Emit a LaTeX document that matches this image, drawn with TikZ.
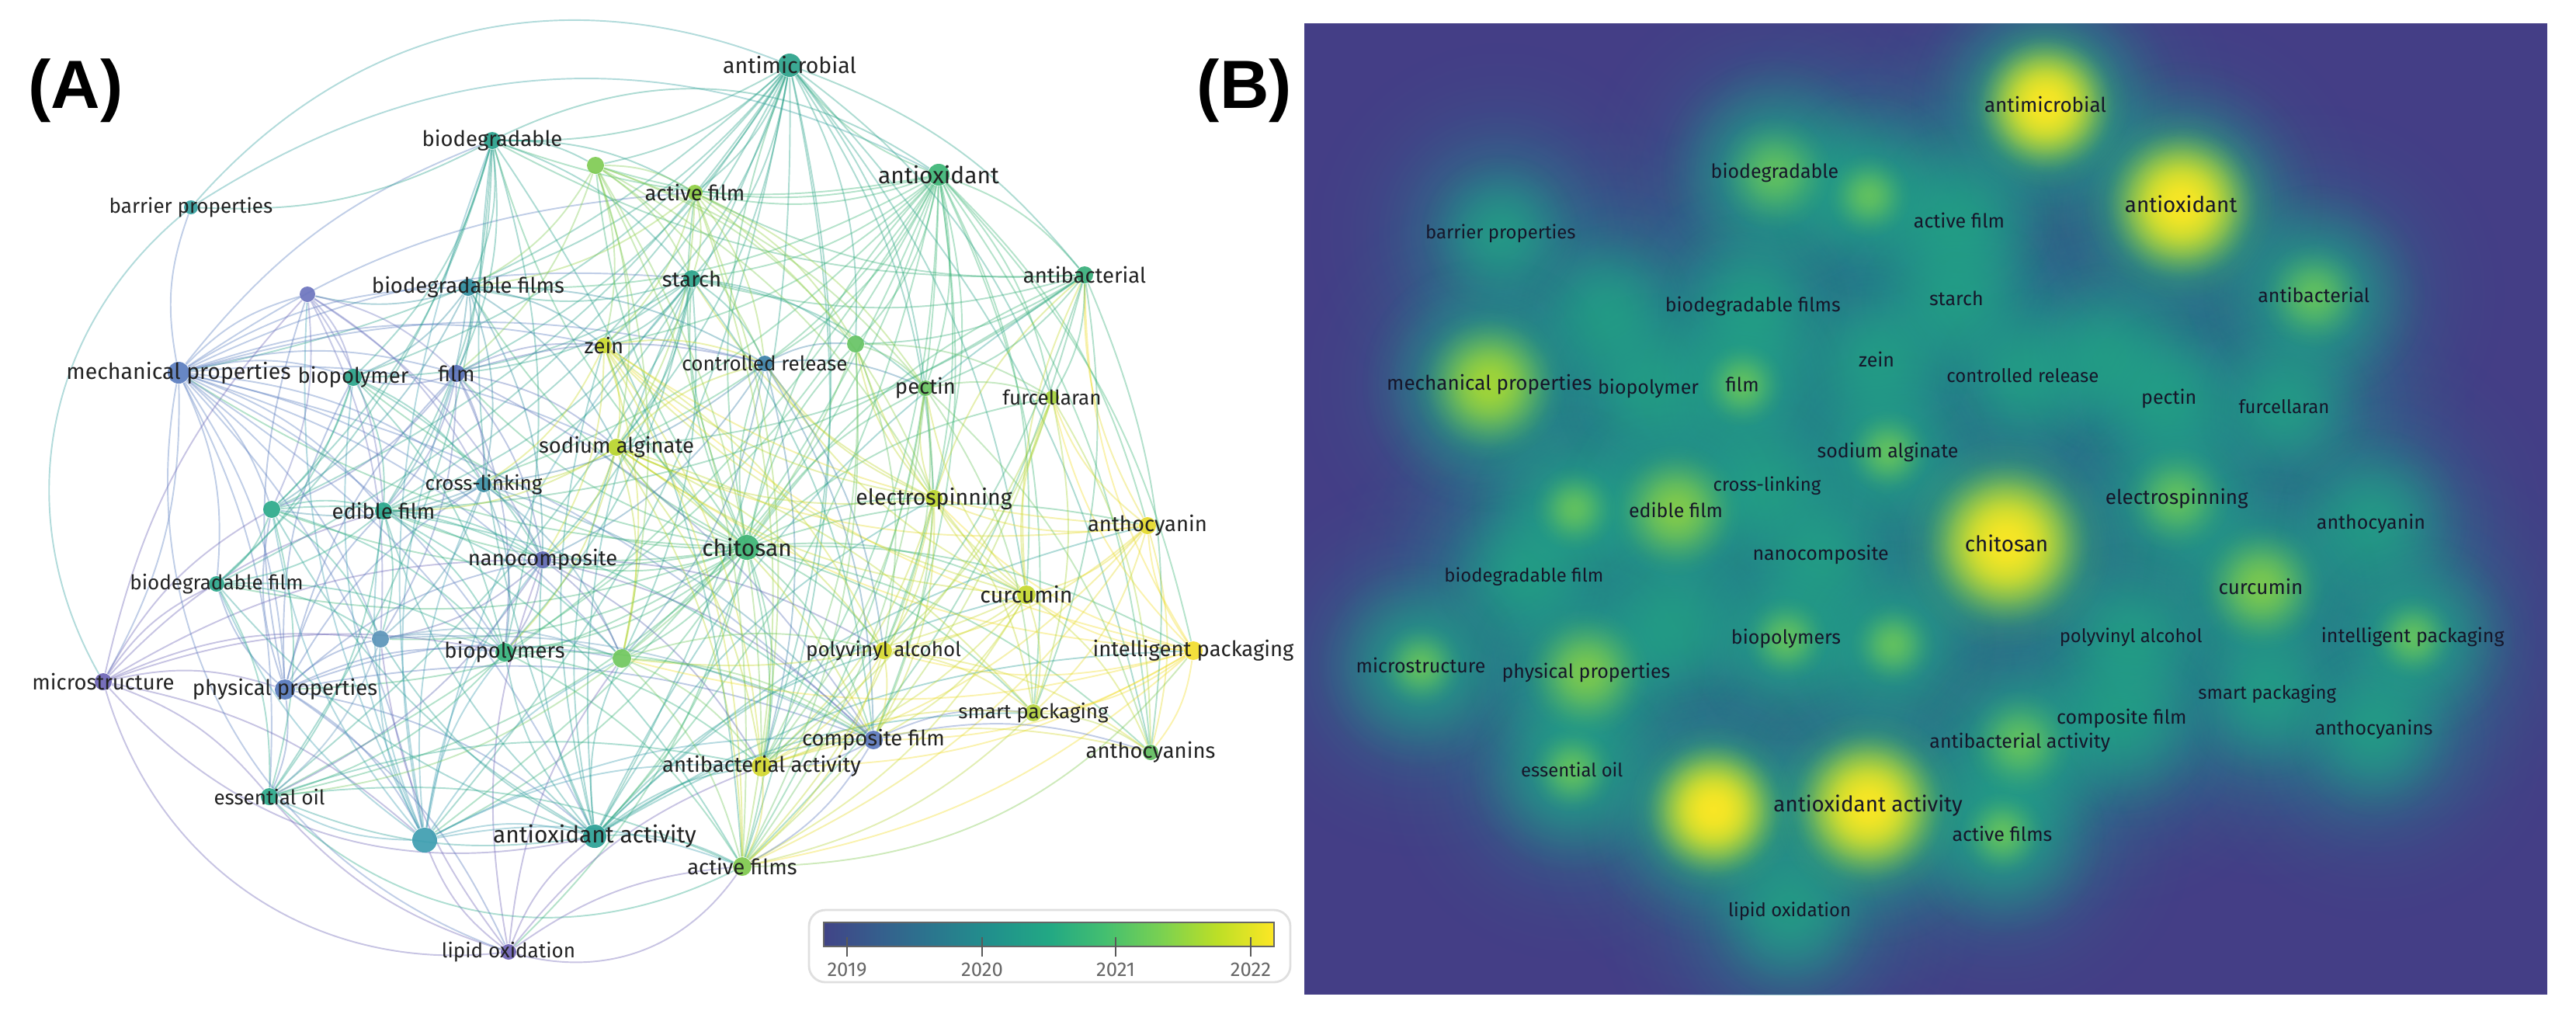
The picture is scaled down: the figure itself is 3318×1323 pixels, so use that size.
\documentclass[tikz,border=0pt]{standalone}
\usepackage{fontspec}
\setmainfont{Fira Sans}
\newfontfamily\labf{Fira Sans}
\newfontfamily\boldf{Liberation Sans}
\usetikzlibrary{fadings}
\definecolor{labtext}{HTML}{222222}
\definecolor{blabtext}{HTML}{16162A}
\definecolor{bgB}{HTML}{443E86}
\definecolor{vir2}{HTML}{414487}
\definecolor{vir3}{HTML}{355F8D}
\definecolor{vir4}{HTML}{2A788E}
\definecolor{vir5}{HTML}{21918C}
\definecolor{vir6}{HTML}{22A884}
\definecolor{vir7}{HTML}{44BF70}
\definecolor{vir8}{HTML}{7AD151}
\definecolor{vir9}{HTML}{BDDF26}
\definecolor{vir10}{HTML}{FDE725}
\definecolor{camic}{HTML}{2AA28A}
\definecolor{cbiod}{HTML}{27A08B}
\definecolor{cgn1}{HTML}{7FCB52}
\definecolor{cafilm}{HTML}{90CF43}
\definecolor{caox}{HTML}{3CB575}
\definecolor{cbarr}{HTML}{35A0A0}
\definecolor{cpu1}{HTML}{6C74BE}
\definecolor{cbfilms}{HTML}{2E8C9D}
\definecolor{cstarch}{HTML}{2AA38A}
\definecolor{cabac}{HTML}{37AE79}
\definecolor{czein}{HTML}{CAD92B}
\definecolor{cctrl}{HTML}{3B80A7}
\definecolor{cgn2}{HTML}{66C364}
\definecolor{cmech}{HTML}{5A7DBF}
\definecolor{cbpoly}{HTML}{2AA58A}
\definecolor{cfilm}{HTML}{5970B8}
\definecolor{cpectin}{HTML}{6CC462}
\definecolor{cfurc}{HTML}{A6D33A}
\definecolor{csodalg}{HTML}{B8D52B}
\definecolor{ccross}{HTML}{3C8FA6}
\definecolor{cespin}{HTML}{BDD52D}
\definecolor{cgt1}{HTML}{2BA98A}
\definecolor{cedible}{HTML}{25A68A}
\definecolor{cantho}{HTML}{E4D929}
\definecolor{cchit}{HTML}{3BB273}
\definecolor{cnano}{HTML}{5C66B1}
\definecolor{cbfilm}{HTML}{2BA88B}
\definecolor{ccurc}{HTML}{C6D82C}
\definecolor{cbl1}{HTML}{5A94B8}
\definecolor{cbpolys}{HTML}{34B17B}
\definecolor{cgn3}{HTML}{70C75D}
\definecolor{cpva}{HTML}{D6D92C}
\definecolor{cintel}{HTML}{F2DD2B}
\definecolor{cmicro}{HTML}{6B63B5}
\definecolor{cphys}{HTML}{5577BB}
\definecolor{csmart}{HTML}{B3D33B}
\definecolor{ccfilm}{HTML}{5B78BD}
\definecolor{canthos}{HTML}{5FBD5D}
\definecolor{cabact}{HTML}{D2D72C}
\definecolor{ceoil}{HTML}{2AA889}
\definecolor{cbt1}{HTML}{3E9DB0}
\definecolor{caoxa}{HTML}{2A9F95}
\definecolor{cafilms}{HTML}{7EC84C}
\definecolor{clipid}{HTML}{6F63B5}
\pgfdeclareradialshading{gaussshade}{\pgfpointorigin}{color(0bp)=(white); color(5bp)=(black!10); color(10bp)=(black!35); color(15bp)=(black!65); color(20bp)=(black!88); color(25bp)=(black); color(50bp)=(black)}
\pgfdeclarefading{gauss}{\pgfuseshading{gaussshade}}
\pgfdeclarehorizontalshading{viridisbar}{100bp}{color(0bp)=(vir2); color(25bp)=(vir2); color(31.25bp)=(vir3); color(37.5bp)=(vir4); color(43.75bp)=(vir5); color(50bp)=(vir6); color(56.25bp)=(vir7); color(62.5bp)=(vir8); color(68.75bp)=(vir9); color(75bp)=(vir10); color(100bp)=(vir10)}
\pgfdeclarelayer{edges}
\pgfsetlayers{edges,main}
\def\kwlist{%
amic/1017/84/15/antimicrobial/L/5,%
biod/634/181/11/biodegradable/M/3.7,%
gn1/767/213/11//M/3,%
afilm/895/248/10/active film/M/2.5,%
aox/1209/225/14/antioxidant/X/5.5,%
barr/246/267/9/barrier properties/S/1.5,%
pu1/396/379/10//M/2,%
bfilms/603/370/11/biodegradable films/M/2.5,%
starch/891/359/11/starch/M/2.5,%
abac/1397/354/11/antibacterial/M/3.5,%
zein/778/445/10/zein/M/2.5,%
ctrl/985/468/10/controlled release/S/2,%
gn2/1102/443/11//M/2.5,%
mech/230/480/14/mechanical properties/L/4.6,%
bpoly/455/486/11/biopolymer/M/2.5,%
film/588/481/11/film/M/3,%
pectin/1192/500/10/pectin/M/2,%
furc/1355/512/9/furcellaran/S/2,%
sodalg/794/576/11/sodium alginate/M/3,%
cross/623/624/10/cross-linking/S/2,%
espin/1203/642/11/electrospinning/L/3.5,%
gt1/350/656/11//M/3,%
edible/494/658/11/edible film/M/4.1,%
antho/1478/677/11/anthocyanin/M/2.5,%
chit/962/705/16/chitosan/X/6,%
nano/699/721/11/nanocomposite/M/2,%
bfilm/279/752/10/biodegradable film/S/2,%
curc/1322/766/12/curcumin/L/4,%
bl1/490/823/11//M/2.5,%
bpolys/650/840/12/biopolymers/M/3,%
gn3/801/848/12//M/3,%
pva/1138/838/11/polyvinyl alcohol/S/2.5,%
intel/1537/838/12/intelligent packaging/M/3,%
micro/133/878/11/microstructure/M/3,%
phys/367/888/13/physical properties/M/4,%
smart/1331/918/11/smart packaging/S/2,%
cfilm/1125/953/12/composite film/M/2.5,%
anthos/1482/969/10/anthocyanins/M/2,%
abact/981/987/13/antibacterial activity/M/3.5,%
eoil/347/1026/11/essential oil/S/3,%
bt1/547/1082/16//M/5,%
aoxa/766/1077/15/antioxidant activity/X/5.5,%
afilms/956/1116/12/active films/M/3,%
lipid/655/1226/10/lipid oxidation/S/2}
\newcommand\kwlinks[2]{\foreach \t in {#2}{\draw[lk=#1] (#1) to[bend left=15] (\t);}}
\begin{document}
\begin{tikzpicture}[x=0.01cm,y=-0.01cm,
  nd/.style={circle,inner sep=0pt,draw=none,fill opacity=0.92},
  lab-S/.style={font=\labf\fontsize{7.4}{8}\selectfont,text=labtext,inner sep=0pt},
  lab-M/.style={font=\labf\fontsize{7.8}{8}\selectfont,text=labtext,inner sep=0pt},
  lab-L/.style={font=\labf\fontsize{8.1}{9}\selectfont,text=labtext,inner sep=0pt},
  lab-X/.style={font=\labf\fontsize{8.5}{9}\selectfont,text=labtext,inner sep=0pt},
  blab-S/.style={font=\labf\fontsize{6.8}{7}\selectfont,text=blabtext,inner sep=0pt},
  blab-M/.style={font=\labf\fontsize{7.1}{8}\selectfont,text=blabtext,inner sep=0pt},
  blab-L/.style={font=\labf\fontsize{7.4}{8}\selectfont,text=blabtext,inner sep=0pt},
  blab-X/.style={font=\labf\fontsize{7.9}{9}\selectfont,text=blabtext,inner sep=0pt},
  lk/.style={draw=c#1,line width=0.55pt,draw opacity=0.38},
  panellab/.style={font=\boldf\bfseries\fontsize{25}{30}\selectfont,inner sep=0pt},
  cbl/.style={font=\labf\fontsize{7.3}{8}\selectfont,text=black!60,inner sep=0pt}]
\useasboundingbox (0,0) rectangle (3318,1323);
% ---------------- panel B : density map ----------------
\fill[bgB] (1680,30) rectangle (3281,1281);
\begin{scope}
\clip (1680,30) rectangle (3281,1281);
\begin{scope}[shift={(1709,58)},scale=0.91]
\foreach \id/\x/\y/\r/\txt/\sz/\w in \kwlist{
  \fill[vir4,path fading=gauss,fill opacity=0.5] (\x,\y) circle[radius=270];}
\foreach \id/\x/\y/\r/\txt/\sz/\w in \kwlist{
  \fill[vir5,path fading=gauss,fill opacity=0.5] (\x,\y) circle[radius=180];}
\foreach \id/\x/\y/\r/\txt/\sz/\w in \kwlist{
  \fill[vir6,path fading=gauss,fill opacity=0.65] (\x,\y) circle[radius={80+22*\w}];}
\foreach \id/\x/\y/\r/\txt/\sz/\w in \kwlist{
  \ifdim\w pt>2.9pt \fill[vir8,path fading=gauss,fill opacity=0.7] (\x,\y) circle[radius={30*\w-30}];\fi}
\foreach \id/\x/\y/\r/\txt/\sz/\w in \kwlist{
  \ifdim\w pt>3.9pt \fill[vir9,path fading=gauss,fill opacity={min(0.9,(\w-3.6)*0.7)}] (\x,\y) circle[radius={20*\w}];\fi}
\foreach \id/\x/\y/\r/\txt/\sz/\w in \kwlist{
  \ifdim\w pt>4.7pt \fill[vir10,path fading=gauss,fill opacity=0.95] (\x,\y) circle[radius={18*\w}];\fi}
\foreach \id/\x/\y/\r/\txt/\sz/\w in \kwlist{
  \ifx\txt\empty\else \node[blab-\sz] (B\id) at (\x,\y) {\txt};\fi}
\end{scope}
\end{scope}
% ---------------- panel A : network ----------------
\foreach \id/\x/\y/\r/\txt/\sz/\w in \kwlist{
  \node[nd,fill=c\id,minimum size={\r*0.02cm},label={[lab-\sz]center:\txt}] (\id) at (\x,\y) {};}
\begin{pgfonlayer}{edges}
\kwlinks{chit}{amic,biod,aox,afilm,starch,abac,zein,ctrl,gn2,mech,bpoly,film,pectin,furc,sodalg,cross,espin,gt1,edible,antho,nano,bfilm,curc,bl1,bpolys,gn3,pva,intel,phys,smart,cfilm,anthos,abact,eoil,bt1,aoxa,afilms,gn1,bfilms,lipid}
\kwlinks{aox}{amic,abac,curc,espin,pectin,starch,biod,afilm,gn1,gn2,furc,antho,intel,smart,anthos,abact,afilms,aoxa,sodalg,zein,ctrl,pva,edible,bpolys,eoil,bt1,gn3,cfilm,bfilms}
\kwlinks{amic}{biod,afilm,abac,starch,gn2,pectin,espin,curc,edible,eoil,bfilm,gt1,aoxa,bt1,abact,afilms,mech,bpoly,bfilms,zein,sodalg,gn1,film,furc,anthos}
\kwlinks{mech}{barr,pu1,bfilms,bpoly,film,biod,micro,phys,bfilm,gt1,edible,bl1,nano,cross,eoil,bt1,aoxa,starch,zein,bpolys,gn3,cfilm,sodalg,afilm,ctrl}
\kwlinks{micro}{phys,eoil,bt1,bfilm,gt1,bl1,nano,pu1,edible,bpolys}
\kwlinks{phys}{bfilm,gt1,edible,bl1,nano,bpolys,bt1,eoil,aoxa,film,pu1,cross,lipid,gn3,cfilm,bpoly}
\kwlinks{lipid}{bt1,aoxa,eoil,afilms,abact,bl1,nano,gn3}
\kwlinks{bt1}{eoil,aoxa,bl1,nano,bpolys,gt1,edible,bfilm,cross,film,pu1,gn3,afilms,abact,starch,bpoly,biod,cfilm}
\kwlinks{aoxa}{eoil,bpolys,gn3,nano,bl1,afilms,abact,cfilm,pva,curc,espin,sodalg,zein,edible,gt1,bfilm,starch,intel,antho,smart,biod,abac}
\kwlinks{intel}{antho,curc,anthos,smart,pva,espin,abact,cfilm,abac,afilms,furc,sodalg,zein,gn3}
\kwlinks{antho}{curc,espin,smart,anthos,pva,sodalg,zein,abac,furc,abact,afilms}
\kwlinks{curc}{espin,pva,smart,anthos,abac,sodalg,zein,abact,afilms,cfilm,gn2,pectin,ctrl,gn3,furc}
\kwlinks{espin}{pva,zein,sodalg,ctrl,abac,gn2,abact,afilms,smart,cfilm,starch,pectin}
\kwlinks{abac}{starch,biod,afilm,pectin,furc,gn2,abact,anthos,smart,afilms,edible,sodalg}
\kwlinks{biod}{afilm,gn1,starch,bfilms,bpoly,film,barr,edible,gt1,bfilm,eoil,afilms,bpolys}
\kwlinks{gn1}{afilm,starch,zein,sodalg,bfilms,film,gn2,abact,espin,ctrl,pectin,afilms,gn3}
\kwlinks{afilm}{starch,zein,sodalg,ctrl,gn2,pectin,espin,bfilms,abact,afilms}
\kwlinks{starch}{bfilms,zein,ctrl,sodalg,film,bpoly,gn2,pectin,cross,edible,nano,bpolys,cfilm,gn3}
\kwlinks{bfilms}{pu1,zein,film,bpoly,sodalg,cross,edible,ctrl,gt1,nano}
\kwlinks{pu1}{film,bpoly,nano,bl1,edible,gt1,cross}
\kwlinks{film}{bpoly,zein,cross,nano,edible,ctrl,sodalg,bl1,gt1,cfilm,bpolys}
\kwlinks{bpoly}{edible,gt1,cross,nano,bfilm,bpolys}
\kwlinks{zein}{sodalg,ctrl,cross,nano,gn3,abact,pva,afilms}
\kwlinks{sodalg}{ctrl,cross,nano,gn3,pva,bpolys,cfilm,abact,afilms,edible,smart}
\kwlinks{ctrl}{gn2,pectin,nano,cross,pva,cfilm,abact,gn3}
\kwlinks{gn2}{pectin,furc,abact,pva,afilms,gn3}
\kwlinks{pectin}{furc,abact,afilms,pva,smart,anthos,cfilm}
\kwlinks{furc}{smart,anthos,abact,afilms,pva}
\kwlinks{cross}{edible,nano,gt1,bl1,bpolys,gn3,cfilm}
\kwlinks{gt1}{edible,bfilm,bl1,eoil,nano,bpolys}
\kwlinks{edible}{nano,bfilm,bl1,bpolys,eoil,gn3,cfilm,afilms}
\kwlinks{nano}{bl1,bpolys,gn3,cfilm,abact,pva,eoil}
\kwlinks{bfilm}{bl1,eoil,bpolys}
\kwlinks{bl1}{bpolys,eoil,gn3,cfilm}
\kwlinks{bpolys}{gn3,eoil,afilms,abact,cfilm}
\kwlinks{gn3}{pva,abact,afilms,cfilm,eoil}
\kwlinks{pva}{cfilm,abact,smart,afilms,anthos}
\kwlinks{cfilm}{abact,smart,afilms,anthos}
\kwlinks{abact}{afilms,smart,anthos}
\kwlinks{smart}{anthos,afilms}
\kwlinks{eoil}{afilms,abact}
\draw[lk=barr] (barr) to[bend left=35] (amic);
\draw[lk=barr] (barr) to[bend left=30] (aox);
\draw[lk=barr] (barr) to[bend right=40] (micro);
\draw[lk=micro] (micro) to[bend right=40] (lipid);
\draw[lk=micro] (micro) to[bend right=30] (aoxa);
\draw[lk=mech] (mech) to[bend right=40] (lipid);
\draw[lk=biod] (biod) to[bend left=30] (aox);
\draw[lk=lipid] (lipid) to[bend right=35] (afilms);
\draw[lk=eoil] (eoil) to[bend right=35] (afilms);
\draw[lk=afilms] (afilms) to[bend right=25] (intel);
\end{pgfonlayer}
% ---------------- colour bar ----------------
\draw[gray!25,line width=0.8pt,rounded corners=6pt] (1042,1172) rectangle (1662,1265);
\shade[shading=viridisbar] (1061,1188) rectangle (1641,1219);
\draw[gray!80!black,line width=0.6pt] (1061,1188) rectangle (1641,1219);
\foreach \yr/\xx in {2019/1091,2020/1265,2021/1437,2022/1611}{
  \draw[gray!70!black,line width=0.6pt] (\xx,1207) -- (\xx,1232);
  \node[cbl] (yr\yr) at (\xx,1249) {\yr};}
% ---------------- panel letters ----------------
\node[panellab,anchor=base west] (labA) at (36,139) {(A)};
\node[panellab,anchor=base west] (labB) at (1541,139) {(B)};
\end{tikzpicture}
\end{document}
